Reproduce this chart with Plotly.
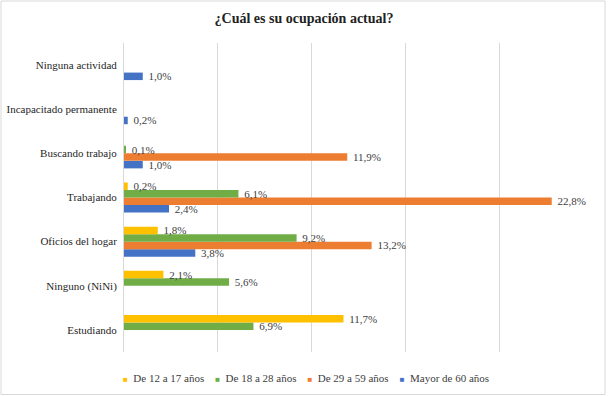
import plotly.graph_objects as go

categories = ["Estudiando", "Ninguno (NiNi)", "Oficios del hogar", "Trabajando",
              "Buscando trabajo", "Incapacitado permanente", "Ninguna actividad"]
series_names = ["De 12 a 17 años", "De 18 a 28 años", "De 29 a 59 años", "Mayor de 60 años"]
v_12_17 = [11.7, 2.1, 1.8, 0.2, None, None, None]
v_18_28 = [6.9, 5.6, 9.2, 6.1, 0.1, None, None]
v_29_59 = [None, None, 13.2, 22.8, 11.9, None, None]
v_60 = [None, None, 3.8, 2.4, 1.0, 0.2, 1.0]
colors = ["#FFC000", "#70AD47", "#ED7D31", "#4472C4"]

series_values = [v_12_17, v_18_28, v_29_59, v_60]

FONT = "Liberation Serif"
NB = "\u00a0"

fig = go.Figure()
# Plotly stacks grouped horizontal bars bottom-up, so add in reverse order
for name, vals, col in reversed(list(zip(series_names, series_values, colors))):
    fig.add_trace(go.Bar(
        y=categories, x=vals, name=name, orientation="h",
        marker=dict(color=col, line=dict(width=0)),
        texttemplate=NB + "%{x:.1f}%", textposition="outside",
        constraintext="none", cliponaxis=False,
        textfont=dict(family=FONT, size=11, color="#404040"),
        hoverinfo="skip", showlegend=False,
    ))

L, R, T, B = 124, 15, 43, 44
W, H = 608, 396
pw, ph = W - L - R, H - T - B

# compact Excel-like legend built as text
legend_text = (NB * 4).join(
    f"<span style='color:{c};font-size:8px'>■</span>{NB}{NB}{n}"
    for n, c in zip(series_names, colors)
)

fig.update_layout(
    width=W, height=H,
    margin=dict(l=L, r=R, t=T, b=B, autoexpand=False),
    paper_bgcolor="white", plot_bgcolor="white",
    separators=",.",
    barmode="group", bargap=0.32, bargroupgap=0,
    showlegend=False,
    font=dict(family=FONT, size=11, color="#404040"),
    title=dict(text="<b>¿Cuál es su ocupación actual?</b>", x=0.5, xref="container",
               xanchor="center", y=1 - 18 / H, yref="container", yanchor="middle",
               font=dict(family=FONT, size=14, color="#222222")),
    xaxis=dict(range=[0, 25], dtick=5, showticklabels=False, showgrid=True,
               gridcolor="#d9d9d9", gridwidth=1, zeroline=False, showline=False,
               automargin=False, fixedrange=True),
    yaxis=dict(categoryorder="array", categoryarray=categories,
               range=[-0.5, len(categories) - 0.5],
               showline=True, linecolor="#d9d9d9", linewidth=1,
               ticks="", ticklabelstandoff=4, showgrid=False, automargin=False,
               fixedrange=True,
               tickfont=dict(family=FONT, size=11, color="#262626")),
    annotations=[dict(text=legend_text, xref="paper", yref="paper",
                      x=(306 - L) / pw, y=(352 - 378) / ph,
                      xanchor="center", yanchor="middle", showarrow=False,
                      font=dict(family=FONT, size=11, color="#404040"))],
    shapes=[dict(type="rect", xref="paper", yref="paper",
                 x0=(1 - L) / pw, x1=(605 - L) / pw,
                 y0=(352 - 394.5) / ph, y1=(352 - 1) / ph,
                 line=dict(color="#d9d9d9", width=1), fillcolor="rgba(0,0,0,0)",
                 layer="below")],
)

fig.write_html("out.html", config={"displayModeBar": False},
               post_script="document.body.style.margin='0';")
